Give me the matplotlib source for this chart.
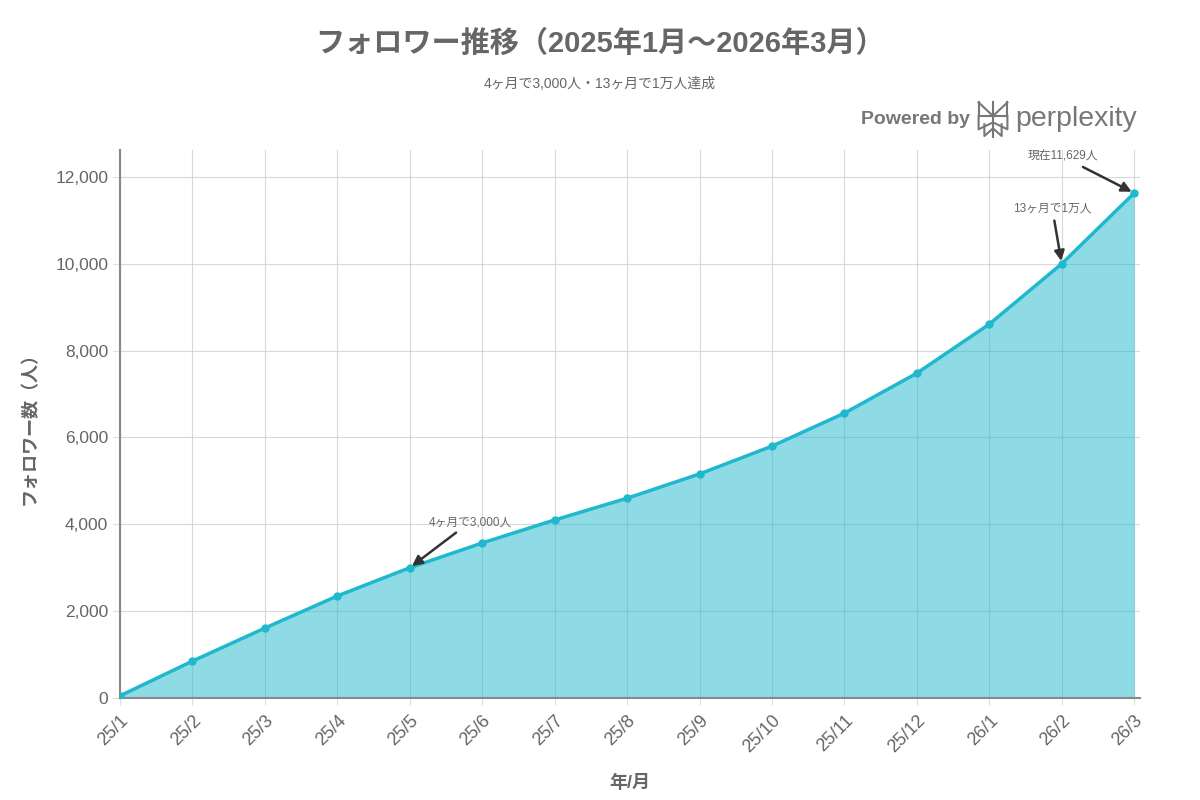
import numpy as np
import matplotlib.pyplot as plt

plt.rcParams['font.family'] = ['Liberation Sans', 'Noto Sans CJK JP', 'DejaVu Sans']

months = ['25/1', '25/2', '25/3', '25/4', '25/5', '25/6', '25/7', '25/8',
          '25/9', '25/10', '25/11', '25/12', '26/1', '26/2', '26/3']
followers = [50, 850, 1610, 2350, 3000, 3570, 4100, 4600,
             5160, 5800, 6560, 7480, 8610, 10000, 11629]
yticks = [0, 2000, 4000, 6000, 8000, 10000, 12000]

gray = '#666666'
teal = '#1FB8CD'

fig = plt.figure(figsize=(12, 8), dpi=100)
ax = fig.add_axes([0.1, 0.1275, 0.85, 0.685])

x = np.arange(len(months))
ax.fill_between(x, followers, 0, color=teal, alpha=0.5, lw=0)
ax.plot(x, followers, color=teal, lw=2.5, marker='o', ms=5, zorder=3)

ax.set_xlim(0, 14.08)
ax.set_ylim(0, 12620)
ax.set_xticks(x)
ax.set_xticklabels(months, rotation=45, ha='right', rotation_mode='anchor', fontsize=13, color=gray)
ax.set_yticks(yticks)
ax.set_yticklabels([f'{v:,}' for v in yticks], fontsize=12.5, color=gray)
ax.tick_params(axis='both', length=5, color='#dddddd')
ax.tick_params(axis='x', pad=5)
ax.set_axisbelow(True)
for s in ['top', 'right']:
    ax.spines[s].set_visible(False)
for s in ['left', 'bottom']:
    ax.spines[s].set_color('#888888')
    ax.spines[s].set_linewidth(1.5)
ax.grid(True, color='#c8c8c8', lw=0.8, zorder=4, alpha=0.7)

ax.set_xlabel('年/月', fontsize=13, fontweight='bold', color=gray, labelpad=14)
ax.set_ylabel('フォロワー数（人）', fontsize=13, fontweight='bold', color=gray, labelpad=12)

arrow = dict(arrowstyle='-|>', color='#333333', lw=1.8, mutation_scale=15)
ax.annotate('4ヶ月で3,000人', xy=(4, 3000), xytext=(4.83, 4050), fontsize=8.5, color=gray,
            ha='center', va='center', arrowprops=arrow)
ax.annotate('13ヶ月で1万人', xy=(13, 10000), xytext=(12.87, 11260), fontsize=8.5, color=gray,
            ha='center', va='center', arrowprops=arrow)
ax.annotate('現在11,629人', xy=(14, 11629), xytext=(13.02, 12460), fontsize=8.5, color=gray,
            ha='center', va='center', arrowprops=arrow)

fig.text(0.5, 0.945, 'フォロワー推移（2025年1月～2026年3月）', ha='center', va='center',
         fontsize=21, fontweight='bold', color=gray)
fig.text(0.5, 0.895, '4ヶ月で3,000人・13ヶ月で1万人達成', ha='center', va='center',
         fontsize=10, color=gray)

# Powered by perplexity
fig.text(0.808, 0.851, 'Powered by', ha='right', va='center', fontsize=14, color='#777777',
         fontweight='bold')
fig.text(0.846, 0.851, 'perplexity', ha='left', va='center', fontsize=20.5, color='#777777')
lc = '#777777'
cx, cy = 0.8275, 0.851
w, h = 0.012, 0.021
segs = [
    [(cx - w, cy + h), (cx, cy + 0.004), (cx + w, cy + h)],
    [(cx, cy + h * 1.05), (cx, cy - h * 1.05)],
    [(cx - w, cy + h), (cx - w, cy + 0.004), (cx + w, cy + 0.004), (cx + w, cy + h)],
    [(cx - w, cy + 0.004), (cx - w, cy - h * 0.6), (cx, cy - 0.004), (cx + w, cy - h * 0.6), (cx + w, cy + 0.004)],
    [(cx - w * 0.6, cy - h * 0.3), (cx - w * 0.6, cy - h), (cx, cy - h * 0.55), (cx + w * 0.6, cy - h), (cx + w * 0.6, cy - h * 0.3)],
]
for sg in segs:
    xs, ys = zip(*sg)
    fig.add_artist(plt.Line2D(xs, ys, color=lc, lw=1.5, transform=fig.transFigure))

plt.savefig('out.png', dpi=100)
